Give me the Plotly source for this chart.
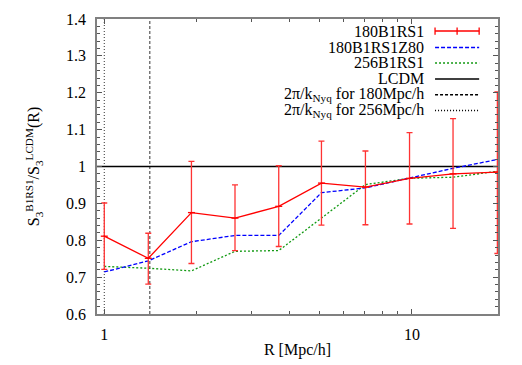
import numpy as np
import plotly.graph_objects as go

# smoothing scale R [Mpc/h]
R = [1.0, 1.39, 1.92, 2.66, 3.69, 5.08, 7.06, 9.82, 13.6, 18.95]

# S3 ratio, 180B1RS1 with error bar ends
s3_180 = [0.811, 0.751, 0.875, 0.860, 0.892, 0.955, 0.944, 0.968, 0.980, 0.985]
s3_180_hi = [0.901, 0.819, 1.014, 0.950, 1.002, 1.069, 1.042, 1.092, 1.130, 1.202]
s3_180_lo = [0.721, 0.681, 0.737, 0.772, 0.783, 0.841, 0.842, 0.844, 0.832, 0.764]

s3_180z80 = [0.714, 0.744, 0.796, 0.813, 0.813, 0.929, 0.942, 0.968, 0.995, 1.019]
s3_256 = [0.729, 0.724, 0.717, 0.770, 0.772, 0.861, 0.951, 0.968, 0.971, 0.987]

lcdm_level = 1.0
nyq_180 = 2 * 180 / 256   # 2pi/kNyq for 180 Mpc/h
nyq_256 = 2 * 256 / 512   # 2pi/kNyq for 256 Mpc/h

x_range = [0.947, 19.04]
y_range = [0.6, 1.4]
y_ticks = [0.6, 0.7, 0.8, 0.9, 1.0, 1.1, 1.2, 1.3, 1.4]
y_ticktext = ['0.6', '0.7', '0.8', '0.9', '1', '1.1', '1.2', '1.3', '1.4']
x_ticks = [1, 10]
x_ticktext = ['1', '10']
x_minor = [2, 3, 4, 5, 6, 7, 8, 9]

FONT = 'Liberation Serif'
RED = '#ff0000'
BLUE = '#0000ff'
GREEN = '#119911'

fig = go.Figure()

# Nyquist scales
fig.add_trace(go.Scatter(x=[nyq_180, nyq_180], y=y_range, mode='lines',
                         line=dict(color='#333', width=1, dash='3px,2px'),
                         showlegend=False, hoverinfo='skip'))
fig.add_trace(go.Scatter(x=[nyq_256, nyq_256], y=y_range, mode='lines',
                         line=dict(color='#333', width=1, dash='1px,2px'),
                         showlegend=False, hoverinfo='skip'))

# LCDM reference
fig.add_trace(go.Scatter(x=x_range, y=[lcdm_level, lcdm_level], mode='lines',
                         line=dict(color='black', width=1.5),
                         showlegend=False))

fig.add_trace(go.Scatter(x=R, y=s3_256, mode='lines',
                         line=dict(color=GREEN, width=1.3, dash='2px,2px'),
                         showlegend=False))
fig.add_trace(go.Scatter(x=R, y=s3_180z80, mode='lines',
                         line=dict(color=BLUE, width=1.3, dash='4px,2px'),
                         showlegend=False))

err_up = np.array(s3_180_hi) - np.array(s3_180)
err_dn = np.array(s3_180) - np.array(s3_180_lo)
fig.add_trace(go.Scatter(
    x=R, y=s3_180, mode='lines+markers',
    line=dict(color=RED, width=1.3),
    marker=dict(symbol='line-ew', size=5, line=dict(color=RED, width=1.3)),
    error_y=dict(type='data', array=err_up, arrayminus=err_dn,
                 color='#ff3333', thickness=1.3, width=3),
    showlegend=False))

# hand-made legend, gnuplot style (text right, sample on the right)
legend_rows = [
    ('180B1RS1', RED, 'solid', 0.959),
    ('180B1RS1Z80', BLUE, '4px,2px', 0.903),
    ('256B1RS1', GREEN, '2px,2px', 0.851),
    ('LCDM', 'black', 'solid', 0.797),
    ('2π/k<sub>Nyq</sub> for 180Mpc/h', 'black', '3px,2px', 0.743),
    ('2π/k<sub>Nyq</sub> for 256Mpc/h', 'black', '1px,2px', 0.690),
]
x_text = 0.820
x0, x1 = 0.843, 0.953
for label, col, dash, yy in legend_rows:
    fig.add_annotation(x=x_text, y=yy, xref='paper', yref='paper',
                       text=label, showarrow=False, xanchor='right',
                       yanchor='middle',
                       font=dict(family=FONT, size=16, color='black'))
    fig.add_shape(type='line', xref='paper', yref='paper',
                  x0=x0, x1=x1, y0=yy, y1=yy,
                  line=dict(color=col, width=1.5, dash=dash))
# error bar caps in the first legend sample
for xc in (x0, (x0 + x1) / 2, x1):
    fig.add_shape(type='line', xref='paper', yref='paper',
                  x0=xc, x1=xc, y0=0.959 - 0.012, y1=0.959 + 0.012,
                  line=dict(color=RED, width=1.3))

axis_common = dict(
    showline=True, linecolor='#808080', linewidth=1.5, mirror='ticks',
    ticks='inside', tickcolor='#555', ticklen=5, tickwidth=1,
    showgrid=False, zeroline=False, automargin=False,
    tickfont=dict(family=FONT, size=16, color='black'),
)

fig.update_layout(
    width=522, height=365,
    margin=dict(l=97, r=24, t=19, b=51),
    paper_bgcolor='white', plot_bgcolor='white',
    font=dict(family=FONT, size=16, color='black'),
    xaxis=dict(
        type='log', range=[np.log10(x_range[0]), np.log10(x_range[1])],
        tickvals=x_ticks, ticktext=x_ticktext,
        minor=dict(tickvals=x_minor, ticks='inside', ticklen=3,
                   tickcolor='#555'),
        ticklabelstandoff=5,
        title=dict(text='R [Mpc/h]', standoff=2,
                   font=dict(family=FONT, size=16)),
        **axis_common),
    yaxis=dict(
        range=y_range, tickvals=y_ticks, ticktext=y_ticktext,
        minor=dict(dtick=0.02, ticks='inside', ticklen=3, tickcolor='#555'),
        ticklabelstandoff=6,
        title=dict(text='S<sub>3</sub><sup>B1RS1</sup>/S<sub>3</sub><sup>LCDM</sup>(R)',
                   standoff=22, font=dict(family=FONT, size=16)),
        **axis_common),
)

fig.write_html('out.html', config={'displayModeBar': False},
               post_script="document.body.style.margin='0';")
